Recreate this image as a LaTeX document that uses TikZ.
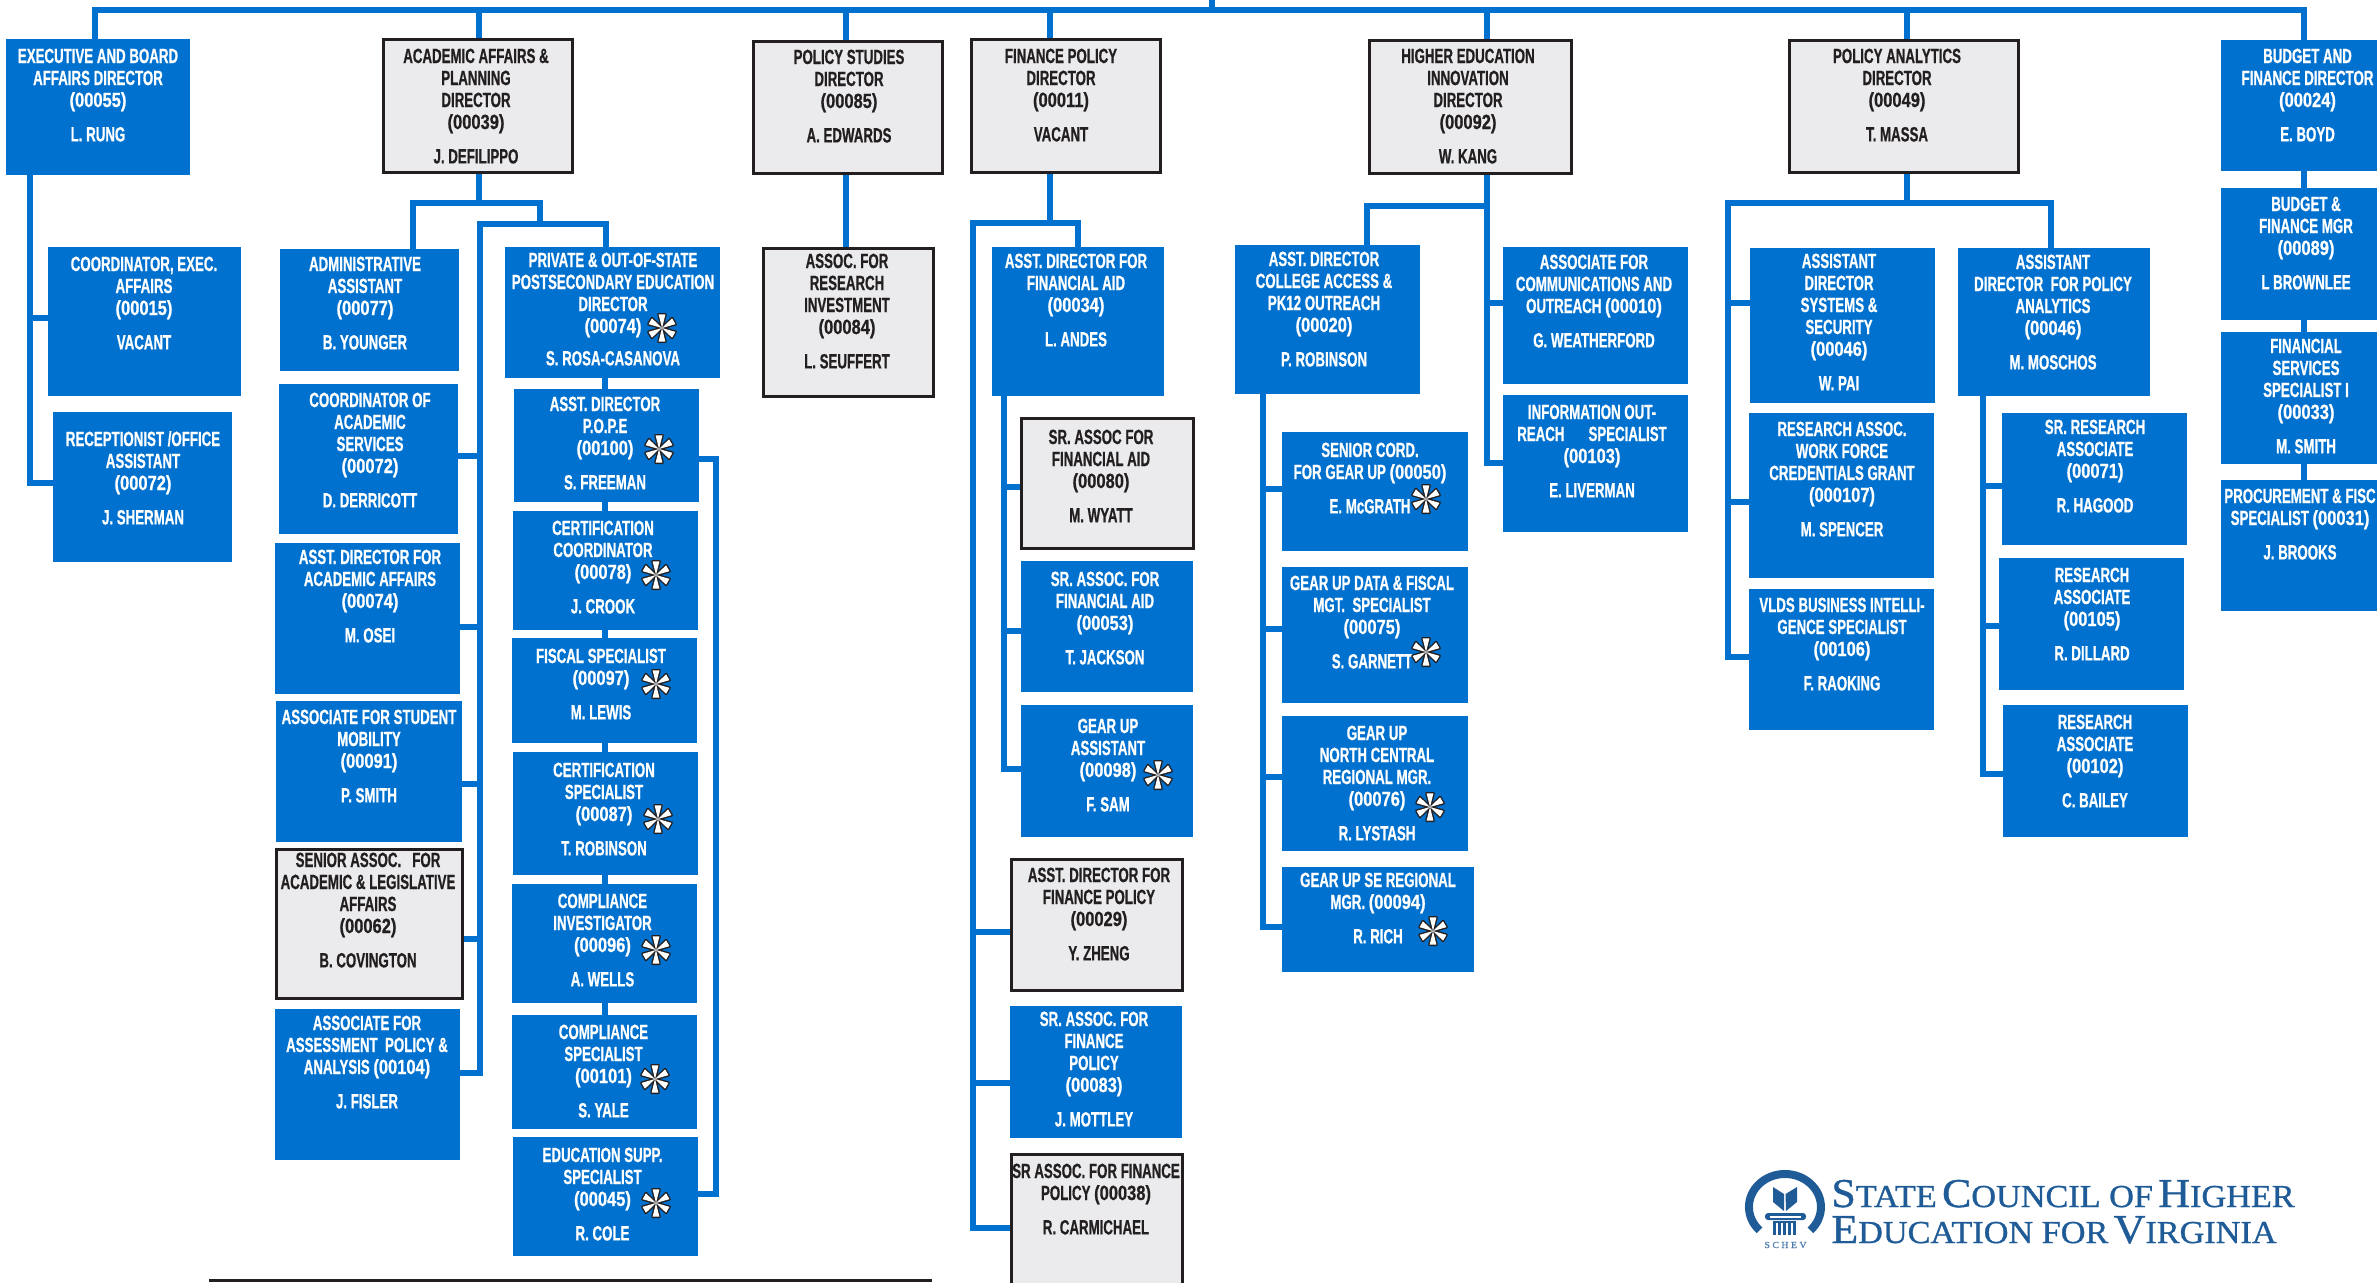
\documentclass[tikz,border=0pt]{standalone}
\usepackage{fontspec}
\usetikzlibrary{backgrounds}
\newfontfamily\bxf[FakeStretch=0.645,BoldFeatures={FakeStretch=0.645,FakeBold=0.7}]{Liberation Sans}
\newfontfamily\numf[FakeStretch=0.8,BoldFeatures={FakeStretch=0.8,FakeBold=0.7}]{Liberation Sans}
\newfontfamily\logof[FakeBold=0.9,FakeStretch=1.07]{Liberation Serif}
\definecolor{cblue}{HTML}{0071CE}
\definecolor{cgrey}{HTML}{EBEBED}
\definecolor{cdark}{HTML}{231F20}
\definecolor{clogo}{HTML}{1F5B96}
\tikzset{
  boxb/.style={rectangle,fill=cblue,draw=none,inner sep=0pt,outer sep=0pt},
  boxg/.style={rectangle,fill=cgrey,draw=cdark,line width=1.5pt,inner sep=0pt,outer sep=0pt},
  boxbtxt/.style={text=white},
  boxgtxt/.style={text=cdark},
  lbl/.style={anchor=north,inner sep=0pt,align=center,font=\bxf\bfseries\fontsize{10.3}{11}\selectfont},
  conn/.style={draw=cblue,line width=3pt,line cap=rect},
  logotxt/.style={anchor=base west,inner sep=0pt,text=clogo,font=\logof}
}
% style, name, x0,y0,x1,y1, text x, first-line y, text
\newcommand\ob[9]{%
  \pgfmathsetmacro\mybw{(#5-#3)*0.5}%
  \pgfmathsetmacro\mybh{(#6-#4)*0.5}%
  \pgfmathsetmacro\mybx{(#5+#3)*0.5}%
  \pgfmathsetmacro\myby{(#6+#4)*0.5}%
  \node[#1,minimum width=\mybw pt,minimum height=\mybh pt] (#2) at (\mybx,\myby) {};
  \node[lbl,#1txt] (#2-t) at ([yshift=4.7pt]#7,#8) {\rule{0pt}{8pt}#9};
}
\newcommand\bb[8]{\ob{boxb}{#1}{#2}{#3}{#4}{#5}{#6}{#7}{#8}}
\newcommand\gb[8]{\ob{boxg}{#1}{#2}{#3}{#4}{#5}{#6}{#7}{#8}}
\newcommand\hb[3]{\draw[conn] (#1 |- 0,#3) -- (#2 |- 0,#3);}
\newcommand\vb[3]{\draw[conn] (#1 -| #2,0) -- (#3 -| #2,0);}
\newcommand\nm[1]{{\numf(#1)}}
\newcommand\astk[2]{%
  \begin{scope}[shift={(#1,#2)}]
    \foreach \a in {90,150,210,270,330,30}{\draw[cdark,line width=1.4pt,line join=round] (0,0) -- (\a-14:14) -- (\a+14:14) -- cycle;}
    \foreach \a in {90,150,210,270,330,30}{\fill[white] (0,0) -- (\a-14:14) -- (\a+14:14) -- cycle;}
  \end{scope}}
\newcommand\lgb[1]{{\fontsize{20.5}{20.5}\selectfont #1}}
\newcommand\lgs[1]{{\fontsize{16}{16}\selectfont #1}}
\begin{document}
\begin{tikzpicture}[x=0.5pt,y=-0.5pt]
\useasboundingbox (0,0) rectangle (2377,1282);
\clip (0,0) rectangle (2377,1282);
% --- directors
\bb{exec}{6}{39}{190}{175}{98}{56}{EXECUTIVE AND BOARD\\AFFAIRS DIRECTOR\\\nm{00055}\\[6.2pt]L. RUNG}
\gb{acad}{383}{39}{572}{172}{476}{56}{ACADEMIC AFFAIRS \&\\PLANNING\\DIRECTOR\\\nm{00039}\\[6.2pt]J. DEFILIPPO}
\gb{policy}{753}{41}{942}{173}{849}{57}{POLICY STUDIES\\DIRECTOR\\\nm{00085}\\[6.2pt]A. EDWARDS}
\gb{fp}{971}{39}{1160}{172}{1061}{56}{FINANCE POLICY\\DIRECTOR\\\nm{00011}\\[6.2pt]VACANT}
\gb{hei}{1369}{40}{1571}{173}{1468}{56}{HIGHER EDUCATION\\INNOVATION\\DIRECTOR\\\nm{00092}\\[6.2pt]W. KANG}
\gb{pa}{1789}{40}{2018}{172}{1897}{56}{POLICY ANALYTICS\\DIRECTOR\\\nm{00049}\\[6.2pt]T. MASSA}
\bb{budget}{2221}{40}{2377}{171}{2307.5}{56}{BUDGET AND\\FINANCE DIRECTOR\\\nm{00024}\\[6.2pt]E. BOYD}
% --- exec
\bb{coordx}{48}{247}{241}{396}{144}{264}{COORDINATOR, EXEC.\\AFFAIRS\\\nm{00015}\\[6.2pt]VACANT}
\bb{recept}{53}{412}{232}{562}{143}{439}{RECEPTIONIST /OFFICE\\ASSISTANT\\\nm{00072}\\[6.2pt]J. SHERMAN}
% --- academic left
\bb{admin}{280}{249}{459}{371}{365}{264}{ADMINISTRATIVE\\ASSISTANT\\\nm{00077}\\[6.2pt]B. YOUNGER}
\bb{coordacad}{279}{384}{458}{534}{370}{400}{COORDINATOR OF\\ACADEMIC\\SERVICES\\\nm{00072}\\[6.2pt]D. DERRICOTT}
\bb{aa}{275}{543}{460}{694}{370}{557}{ASST. DIRECTOR FOR\\ACADEMIC AFFAIRS\\\nm{00074}\\[6.2pt]M. OSEI}
\bb{student}{276}{701}{462}{842}{369}{717}{ASSOCIATE FOR STUDENT\\MOBILITY\\\nm{00091}\\[6.2pt]P. SMITH}
\gb{senior}{276}{849}{462}{998}{368}{860}{SENIOR ASSOC.~~~FOR\\ACADEMIC \& LEGISLATIVE\\AFFAIRS\\\nm{00062}\\[6.2pt]B. COVINGTON}
\bb{assess}{275}{1009}{460}{1160}{367}{1023}{ASSOCIATE FOR\\ASSESSMENT~~POLICY \&\\ANALYSIS \nm{00104}\\[6.2pt]J. FISLER}
% --- academic right
\bb{private}{505}{247}{720}{378}{613}{260}{PRIVATE \& OUT-OF-STATE\\POSTSECONDARY EDUCATION\\DIRECTOR\\\nm{00074}\\[5.2pt]S. ROSA-CASANOVA}
\bb{pope}{514}{389}{699}{502}{605}{404}{ASST. DIRECTOR\\P.O.P.E\\\nm{00100}\\[6.2pt]S. FREEMAN}
\bb{certc}{513}{511}{698}{630}{603}{528}{CERTIFICATION\\COORDINATOR\\\nm{00078}\\[6.2pt]J. CROOK}
\bb{fiscal}{512}{638}{697}{743}{601}{656}{FISCAL SPECIALIST\\\nm{00097}\\[6.2pt]M. LEWIS}
\bb{certs}{513}{752}{698}{875}{604}{770}{CERTIFICATION\\SPECIALIST\\\nm{00087}\\[6.2pt]T. ROBINSON}
\bb{compi}{512}{884}{697}{1003}{602.5}{901}{COMPLIANCE\\INVESTIGATOR\\\nm{00096}\\[6.2pt]A. WELLS}
\bb{comps}{512}{1015}{697}{1129}{603.5}{1032}{COMPLIANCE\\SPECIALIST\\\nm{00101}\\[6.2pt]S. YALE}
\bb{edu}{513}{1137}{698}{1256}{602.5}{1155}{EDUCATION SUPP.\\SPECIALIST\\\nm{00045}\\[6.2pt]R. COLE}
% --- policy studies
\gb{research}{763}{248}{933}{396}{847}{261}{ASSOC. FOR\\RESEARCH\\INVESTMENT\\\nm{00084}\\[6.2pt]L. SEUFFERT}
% --- finance
\bb{fad}{992}{247}{1164}{396}{1076}{261}{ASST. DIRECTOR FOR\\FINANCIAL AID\\\nm{00034}\\[6.2pt]L. ANDES}
\gb{sreighty}{1021}{418}{1193}{548}{1101}{437}{SR. ASSOC FOR\\FINANCIAL AID\\\nm{00080}\\[6.2pt]M. WYATT}
\bb{srfive}{1021}{561}{1193}{692}{1105}{579}{SR. ASSOC. FOR\\FINANCIAL AID\\\nm{00053}\\[6.2pt]T. JACKSON}
\bb{gua}{1021}{705}{1193}{837}{1108}{726}{GEAR UP\\ASSISTANT\\\nm{00098}\\[6.2pt]F. SAM}
\gb{adfp}{1011}{859}{1182}{990}{1099}{875}{ASST. DIRECTOR FOR\\FINANCE POLICY\\\nm{00029}\\[6.2pt]Y. ZHENG}
\bb{srfp}{1010}{1006}{1182}{1138}{1094}{1019}{SR. ASSOC. FOR\\FINANCE\\POLICY\\\nm{00083}\\[6.2pt]J. MOTTLEY}
\gb{srtt}{1011}{1154}{1182}{1290}{1096}{1171}{SR ASSOC. FOR FINANCE\\POLICY \nm{00038}\\[6.2pt]R. CARMICHAEL}
% --- higher ed
\bb{college}{1235}{245}{1420}{394}{1324}{259}{ASST. DIRECTOR\\COLLEGE ACCESS \&\\PK12 OUTREACH\\\nm{00020}\\[6.2pt]P. ROBINSON}
\bb{comm}{1503}{247}{1688}{384}{1594}{262}{ASSOCIATE FOR\\COMMUNICATIONS AND\\OUTREACH \nm{00010}\\[6.2pt]G. WEATHERFORD}
\bb{info}{1503}{395}{1688}{532}{1592}{412}{INFORMATION OUT-\\REACH\hspace{12pt}SPECIALIST\\\nm{00103}\\[6.2pt]E. LIVERMAN}
\bb{cord}{1282}{432}{1468}{551}{1370}{450}{SENIOR CORD.\\FOR GEAR UP \nm{00050}\\[6.2pt]E. McGRATH}
\bb{gdata}{1282}{567}{1468}{703}{1372}{583}{GEAR UP DATA \& FISCAL\\MGT.~~SPECIALIST\\\nm{00075}\\[6.2pt]S. GARNETT}
\bb{north}{1282}{716}{1468}{851}{1377}{733}{GEAR UP\\NORTH CENTRAL\\REGIONAL MGR.\\\nm{00076}\\[6.2pt]R. LYSTASH}
\bb{se}{1282}{867}{1474}{972}{1378}{880}{GEAR UP SE REGIONAL\\MGR. \nm{00094}\\[6.2pt]R. RICH}
% --- policy analytics
\bb{asys}{1750}{248}{1935}{403}{1839}{261}{ASSISTANT\\DIRECTOR\\SYSTEMS \&\\SECURITY\\\nm{00046}\\[6.2pt]W. PAI}
\bb{rwf}{1749}{413}{1934}{578}{1842}{429}{RESEARCH ASSOC.\\WORK FORCE\\CREDENTIALS GRANT\\\nm{000107}\\[6.2pt]M. SPENCER}
\bb{vlds}{1749}{589}{1934}{730}{1842}{605}{VLDS BUSINESS INTELLI-\\GENCE SPECIALIST\\\nm{00106}\\[6.2pt]F. RAOKING}
\bb{apol}{1958}{248}{2150}{396}{2053}{262}{ASSISTANT\\DIRECTOR~~FOR POLICY\\ANALYTICS\\\nm{00046}\\[6.2pt]M. MOSCHOS}
\bb{srr}{2002}{413}{2187}{545}{2095}{427}{SR. RESEARCH\\ASSOCIATE\\\nm{00071}\\[6.2pt]R. HAGOOD}
\bb{rfive}{1999}{558}{2184}{690}{2092}{575}{RESEARCH\\ASSOCIATE\\\nm{00105}\\[6.2pt]R. DILLARD}
\bb{rtwo}{2003}{705}{2188}{837}{2095}{722}{RESEARCH\\ASSOCIATE\\\nm{00102}\\[6.2pt]C. BAILEY}
% --- budget
\bb{bmgr}{2221}{188}{2377}{320}{2306}{204}{BUDGET \&\\FINANCE MGR\\\nm{00089}\\[6.2pt]L BROWNLEE}
\bb{fin}{2221}{332}{2377}{464}{2306}{346}{FINANCIAL\\SERVICES\\SPECIALIST I\\\nm{00033}\\[6.2pt]M. SMITH}
\bb{proc}{2221}{480}{2377}{611}{2300}{496}{PROCUREMENT \& FISC\\SPECIALIST \nm{00031}\\[6.2pt]J. BROOKS}
% --- connectors
\begin{pgfonlayer}{background}
\coordinate (topl) at (95,10); \coordinate (topr) at (2304,10);
\coordinate (stubb) at (1212,10); \coordinate (stubt) at (1212,0);
\coordinate (exS) at (30,483);
\coordinate (b1) at (413,203); \coordinate (b2) at (540,203);
\coordinate (b3) at (606,224); \coordinate (b4) at (480,224); \coordinate (b5) at (480,1073);
\coordinate (rA) at (716,459); \coordinate (rB) at (716,1194);
\coordinate (fbr) at (1078,223); \coordinate (fb) at (973,223); \coordinate (fbot) at (973,1228);
\coordinate (fs) at (1004,769);
\coordinate (he) at (1487,463); \coordinate (hb1) at (1367,206); \coordinate (cs) at (1263,927);
\coordinate (pr) at (2051,203); \coordinate (pl) at (1728,203); \coordinate (pls) at (1728,657);
\coordinate (ps) at (1983,774);
\draw[conn] (exec.north -| topl) -- (topl) -- (topr) -- (budget.north -| topr);
\draw[conn] (stubt) -- (stubb);
\draw[conn] (exec.south -| exS) -- (exS) -- (recept.west |- exS);
\hb{coordx.west}{exS}{318}
\vb{acad.north}{479}{topl}
\vb{acad.south}{479}{b1}
\draw[conn] (admin.north -| b1) -- (b1) -- (b2) -- (b2 |- b3);
\draw[conn] (private.north -| b3) -- (b3) -- (b4) -- (b5) -- (assess.east |- b5);
\hb{coordacad.east}{b4}{456}
\hb{aa.east}{b4}{627}
\hb{student.east}{b4}{784}
\hb{senior.east}{b4}{939}
\vb{private.south}{605}{comps.north}
\draw[conn] (pope.east |- rA) -- (rA) -- (rB) -- (edu.east |- rB);
\vb{policy.north}{846}{topl}
\vb{policy.south}{846}{research.north}
\vb{fp.north}{1050}{topl}
\vb{fp.south}{1050}{fb}
\draw[conn] (fad.north -| fbr) -- (fbr) -- (fb) -- (fbot) -- (srtt.west |- fbot);
\hb{adfp.west}{fb}{932}
\hb{srfp.west}{fb}{1083}
\draw[conn] (fad.south -| fs) -- (fs) -- (gua.west |- fs);
\hb{sreighty.west}{fs}{487}
\hb{srfive.west}{fs}{631}
\vb{hei.north}{1487}{topl}
\draw[conn] (hei.south -| he) -- (he) -- (info.west |- he);
\hb{comm.west}{he}{303}
\draw[conn] (college.north -| hb1) -- (hb1) -- (hb1 -| he);
\draw[conn] (college.south -| cs) -- (cs) -- (se.west |- cs);
\hb{cord.west}{cs}{489}
\hb{gdata.west}{cs}{629}
\hb{north.west}{cs}{777}
\vb{pa.north}{1907}{topl}
\vb{pa.south}{1907}{pl}
\draw[conn] (apol.north -| pr) -- (pr) -- (pl) -- (pls) -- (vlds.west |- pls);
\hb{asys.west}{pl}{303}
\hb{rwf.west}{pl}{502}
\draw[conn] (apol.south -| ps) -- (ps) -- (rtwo.west |- ps);
\hb{srr.west}{ps}{486}
\hb{rfive.west}{ps}{626}
\vb{budget.south}{2304}{proc.north}
\end{pgfonlayer}
% --- asterisks
\astk{662}{328}\astk{659}{449}\astk{656}{575}\astk{656}{684}
\astk{658}{819}\astk{656}{950}\astk{655}{1079}\astk{656}{1203}
\astk{1426}{499}\astk{1426}{652}\astk{1430}{807}\astk{1433}{931}
\astk{1158}{775}
% --- bottom rule
\coordinate (rulea) at (209,1280); \coordinate (ruleb) at (932,1280);
\draw[cdark,line width=1.5pt] (rulea) -- (ruleb);
% --- logo
\draw[clogo,line width=4pt] (1759.5,1230.3) arc[start angle=135,end angle=405,x radius=36,y radius=33];
\fill[clogo] (1773,1187) -- (1784,1194) -- (1784,1211) -- (1773,1202) -- cycle;
\fill[clogo] (1785.5,1194) -- (1797,1187) -- (1797,1202) -- (1786,1211) -- cycle;
\fill[clogo,rounded corners=1.5pt] (1765,1213) rectangle (1806,1220);
\fill[white] (1770,1215.5) rectangle (1801,1217.5);
\fill[clogo] (1773,1221) rectangle (1796,1223);
\foreach \x in {1773,1778,1783,1788,1793}{\fill[clogo] (\x,1223) rectangle (\x+3,1235);}
\node[inner sep=0pt,text=clogo!80,font=\logof\fontsize{4.6}{5}\selectfont] (schev) at (1785.5,1245) {S C H E V};
\node[logotxt] (logo1) at (1831,1207) {\lgb{S}\lgs{TATE} \lgb{C}\lgs{OUNCIL OF} \lgb{H}\lgs{IGHER}};
\node[logotxt] (logo2) at (1831,1243) {\lgb{E}\lgs{DUCATION FOR} \lgb{V}\lgs{IRGINIA}};
\end{tikzpicture}
\end{document}
